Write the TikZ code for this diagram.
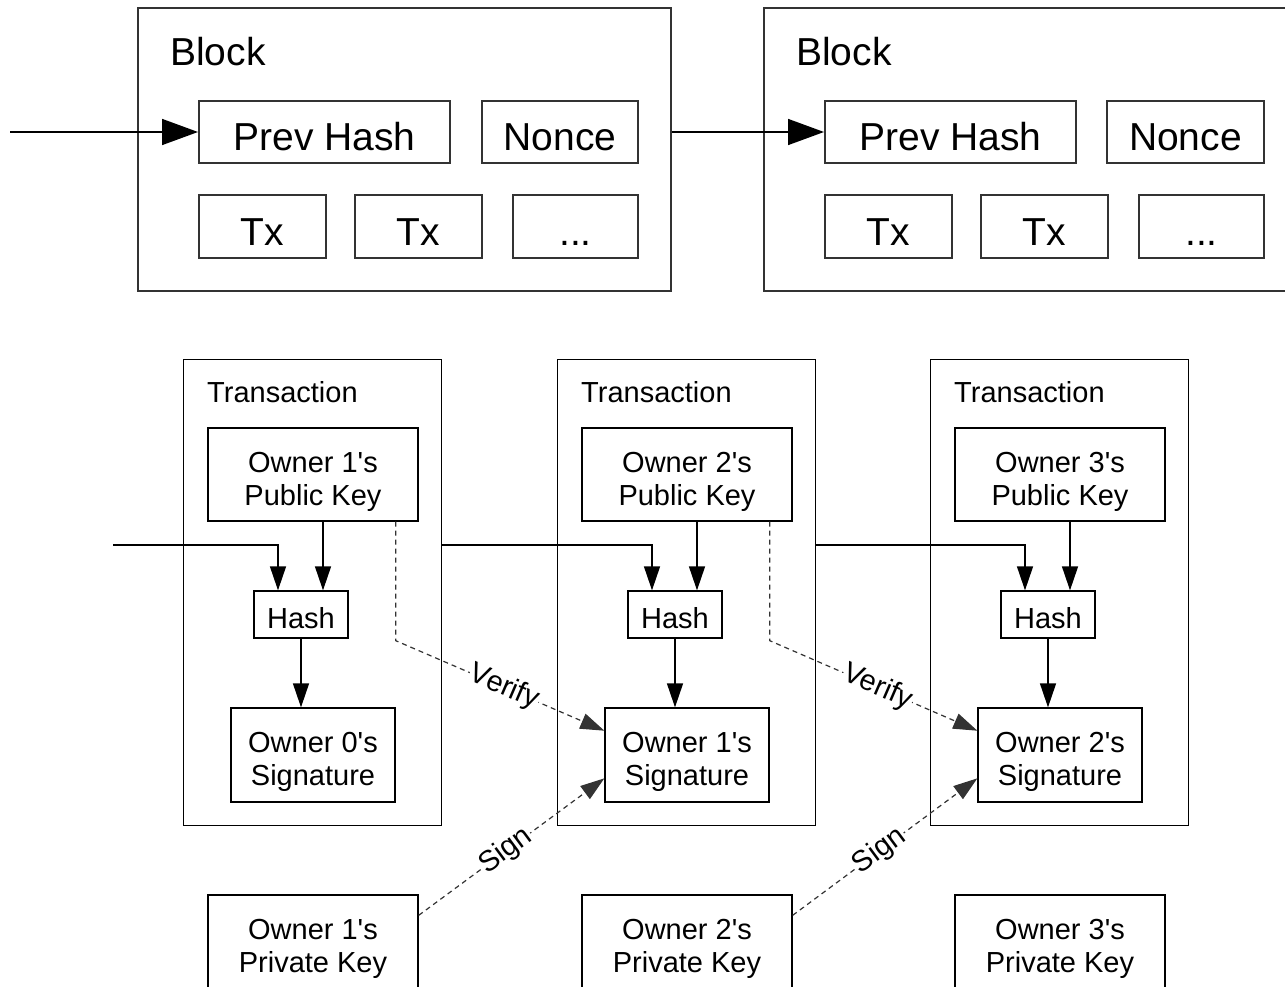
\documentclass[tikz,border=0pt]{standalone}
\usepackage{fontspec}
\setmainfont{Liberation Sans}
\usetikzlibrary{arrows.meta,calc}
% struts that set the vertical placement of text inside the boxes
\newcommand\upstrut{\rule{0pt}{36pt}}
\newcommand\downstrut{\rule[-8pt]{0pt}{8pt}}
\begin{document}
\begin{tikzpicture}[x=1pt,y=-1pt,
  blockframe/.style={draw=black!80, line width=2pt, inner sep=0pt, anchor=north west},
  field/.style={draw=black!80, line width=2pt, minimum height=62pt, inner sep=0pt,
    font=\fontsize{39}{44}\selectfont,
    execute at begin node={\rule{0pt}{37pt}}},
  txframe/.style={draw, line width=1.3pt, inner sep=0pt, anchor=north west,
    minimum width=258pt, minimum height=466pt},
  item/.style={draw, line width=1.3pt, inner sep=0pt, align=center,
    font=\fontsize{29}{33}\selectfont},
  bigarrow/.style={line width=1.6pt, -{Triangle[length=36pt,width=26pt]}},
  arr/.style={line width=1.3pt, -{Triangle[length=24pt,width=16pt]}},
  dashlink/.style={dash pattern=on 5pt off 4pt, line width=1.2pt, draw=black!80,
    -{Triangle[length=24pt,width=16pt]}},
  lbl/.style={font=\fontsize{29}{33}\selectfont, fill=white, inner sep=1pt},
  title/.style={anchor=base west, inner sep=0pt}
]
\useasboundingbox (0,0) rectangle (1285,987);
\clip (0,0) rectangle (1285,987);

% ---- block chain ----
\node[blockframe, minimum width=533pt, minimum height=283pt] (blockA) at (137,7) {};
\node[blockframe, minimum width=560pt, minimum height=283pt] (blockB) at (763,7) {};
\node[title, font=\fontsize{39}{44}\selectfont] (blockAlbl) at (170,66) {Block};
\node[title, font=\fontsize{39}{44}\selectfont] (blockBlbl) at (796,66) {Block};

\node[field, minimum width=251pt] (prevA) at (324.5,132) {Prev Hash};
\node[field, minimum width=156pt] (nonceA) at (560,132) {Nonce};
\node[field, minimum width=127pt] (txA1) at (262.5,226.5) {Tx};
\node[field, minimum width=127pt] (txA2) at (418.5,226.5) {Tx};
\node[field, minimum width=125pt] (txA3) at (575.5,226.5) {...};

\node[field, minimum width=251pt] (prevB) at (950.5,132) {Prev Hash};
\node[field, minimum width=157pt] (nonceB) at (1185.5,132) {Nonce};
\node[field, minimum width=127pt] (txB1) at (888.5,226.5) {Tx};
\node[field, minimum width=127pt] (txB2) at (1044.5,226.5) {Tx};
\node[field, minimum width=125pt] (txB3) at (1201.5,226.5) {...};

\coordinate (chainin) at (10,132);
\draw[bigarrow] (chainin) -- (prevA.west);
\draw[bigarrow] (blockA.east |- prevB.west) -- (prevB.west);

% ---- transactions ----
\foreach \i/\dx in {1/0, 2/374, 3/747} {
  \pgfmathtruncatemacro{\prev}{\i-1}
  \node[txframe] (tx\i) at (183+\dx,359) {};
  \node[title, font=\fontsize{29}{33}\selectfont] (txlbl\i) at (207+\dx,402) {Transaction};
  \node[item, minimum width=210pt, minimum height=93pt] (pk\i) at (313+\dx,474.5)
    {\upstrut Owner \i\textquotesingle s\\Public Key\downstrut};
  \node[item, minimum width=94pt, minimum height=47pt] (hash\i) at (301+\dx,614.5)
    {\upstrut Hash\downstrut};
  \node[item, minimum width=164pt, minimum height=94pt] (sig\i) at (313+\dx,755)
    {\upstrut Owner \prev\textquotesingle s\\Signature\downstrut};
  \node[item, minimum width=210pt, minimum height=94pt] (priv\i) at (313+\dx,942)
    {\upstrut Owner \i\textquotesingle s\\Private Key\downstrut};
  \coordinate (hl\i) at ($(hash\i.north)+(-23,0)$);
  \coordinate (hr\i) at ($(hash\i.north)+(22,0)$);
  \draw[arr] (hr\i |- pk\i.south) -- (hr\i);
  \draw[arr] (hash\i.south) -- (hash\i.south |- sig\i.north);
}

\coordinate (txin) at (113,545);
\draw[arr] (txin) -| (hl1);
\draw[arr] (tx1.east |- txin) -| (hl2);
\draw[arr] (tx2.east |- txin) -| (hl3);

% ---- verify and sign links ----
\foreach \i/\j in {1/2, 2/3} {
  \coordinate (vs\i) at ($(pk\i.south east)+(-23,0)$);
  \coordinate (vt\j) at ($(sig\j.north west)!0.245!(sig\j.south west)$);
  \draw[dashlink] (vs\i) -- ++(0,119) -- node[lbl, sloped, pos=0.52] {Verify} (vt\j);
  \coordinate (ss\i) at ($(priv\i.north east)+(0,21)$);
  \coordinate (st\j) at ($(sig\j.north west)!0.745!(sig\j.south west)$);
  \draw[dashlink] (ss\i) -- node[lbl, sloped, pos=0.47] {Sign} (st\j);
}
\end{tikzpicture}
\end{document}
